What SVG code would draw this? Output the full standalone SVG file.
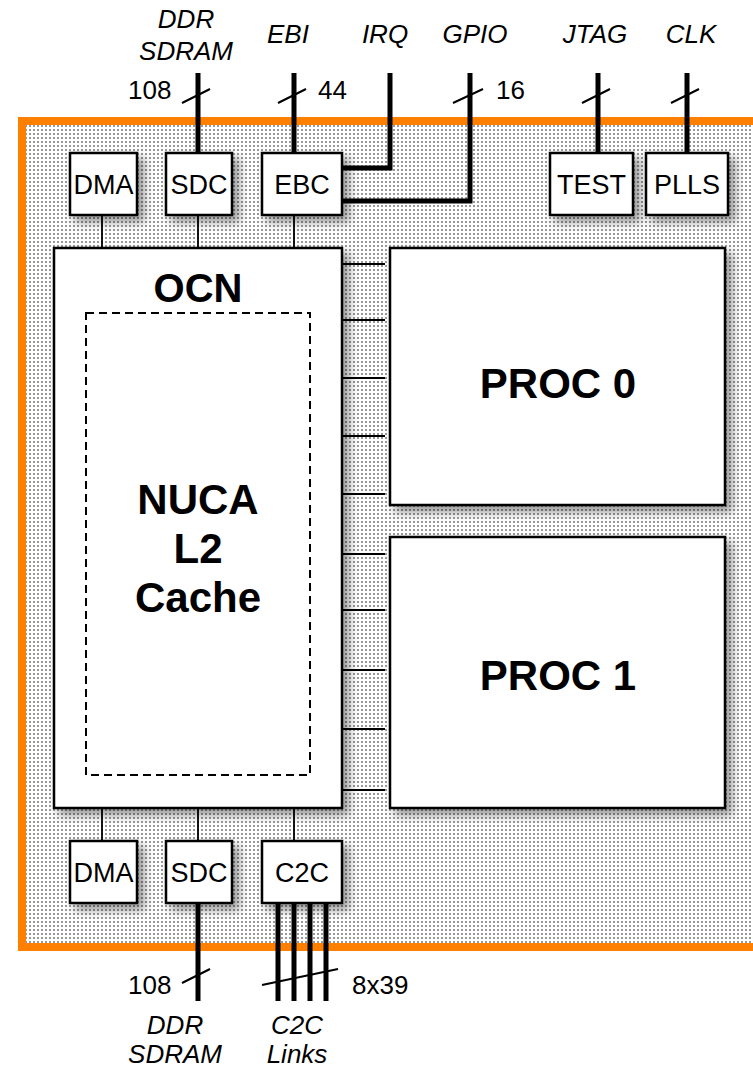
<svg xmlns="http://www.w3.org/2000/svg" width="753" height="1069" viewBox="0 0 753 1069">
<defs>
<pattern id="dots" width="4" height="4" patternUnits="userSpaceOnUse">
<rect width="4" height="4" fill="#ffffff"/>
<rect x="1" y="1" width="2" height="2" fill="#999999"/>
</pattern>
<filter id="sh" x="-20%" y="-20%" width="150%" height="150%">
<feDropShadow dx="6" dy="6" stdDeviation="5" flood-color="#000" flood-opacity="0.4"/>
</filter>
<style>
.box{fill:#fff;stroke:#000;stroke-width:2.5;filter:url(#sh)}
.lbl{font-family:"Liberation Sans",Arial,sans-serif;font-size:27px;fill:#000;text-anchor:middle}
.it{font-family:"Liberation Sans",Arial,sans-serif;font-size:26px;font-style:italic;fill:#000;text-anchor:middle}
.num{font-family:"Liberation Sans",Arial,sans-serif;font-size:26px;fill:#000}
.big{font-family:"Liberation Sans",Arial,sans-serif;font-size:42px;font-weight:bold;fill:#000;text-anchor:middle}
.bus{stroke:#000;stroke-width:5;fill:none}
.thin{stroke:#000;stroke-width:1.8;fill:none}
.slash{stroke:#000;stroke-width:2;fill:none}
</style>
</defs>
<rect width="753" height="1069" fill="#fff"/>
<g id="chip">
<rect x="22" y="121" width="760" height="826" fill="url(#dots)" stroke="#FF8000" stroke-width="8"/>
</g>
<g id="connectors">
<path class="bus" d="M198 73V153M294 73V153M390 73V168H342M470 73V201H342M598 73V153M687 73V153"/>
<path class="slash" d="M182 103L210 89M278 103L306 89M453 103L483 89M582 103L610 89M671 103L699 89"/>
<path class="thin" d="M102 215V248M198 215V248M294 215V248M102 808V841M198 808V841M294 808V841"/>
<path class="thin" d="M343 264H385M343 320H385M343 378H385M343 436H385M343 494H385M343 554H385M343 610H385M343 670H385M343 729H385M343 790H385"/>
<path class="bus" d="M198 903V1001M278 903V1001M294 903V1001M310 903V1001M326 903V1001"/>
<path class="slash" d="M182 983L210 969M262 985L338 969"/>
</g>
<g id="labels-top">
<text class="it" x="186" y="28">DDR</text>
<text class="it" x="186" y="60">SDRAM</text>
<text class="it" x="288" y="43">EBI</text>
<text class="it" x="385" y="43">IRQ</text>
<text class="it" x="475" y="43">GPIO</text>
<text class="it" x="595" y="43">JTAG</text>
<text class="it" x="691" y="43">CLK</text>
<text class="num" x="128" y="99">108</text>
<text class="num" x="318" y="99">44</text>
<text class="num" x="496" y="99">16</text>
</g>
<g id="dma-top"><rect class="box" x="70" y="153" width="67" height="62"/><text class="lbl" x="103.5" y="194">DMA</text></g>
<g id="sdc-top"><rect class="box" x="166" y="153" width="66" height="62"/><text class="lbl" x="199" y="194">SDC</text></g>
<g id="ebc"><rect class="box" x="262" y="153" width="80" height="62"/><text class="lbl" x="302" y="194">EBC</text></g>
<g id="test"><rect class="box" x="550" y="153" width="83" height="62"/><text class="lbl" x="591.5" y="194">TEST</text></g>
<g id="plls"><rect class="box" x="646" y="153" width="82" height="62"/><text class="lbl" x="687" y="194">PLLS</text></g>
<g id="ocn">
<rect class="box" x="54" y="248" width="288" height="560"/>
<text class="big" x="198" y="302" style="font-size:40px">OCN</text>
<rect x="86" y="313" width="224" height="462" fill="none" stroke="#000" stroke-width="2" stroke-dasharray="8,5"/>
<text class="big" x="198" y="514">NUCA</text>
<text class="big" x="198" y="563">L2</text>
<text class="big" x="198" y="612">Cache</text>
</g>
<g id="proc0"><rect class="box" x="390" y="248" width="335" height="257"/><text class="big" x="558" y="398">PROC 0</text></g>
<g id="proc1"><rect class="box" x="390" y="537" width="335" height="271"/><text class="big" x="558" y="690">PROC 1</text></g>
<g id="dma-bot"><rect class="box" x="70" y="841" width="67" height="62"/><text class="lbl" x="103.5" y="882">DMA</text></g>
<g id="sdc-bot"><rect class="box" x="166" y="841" width="66" height="62"/><text class="lbl" x="199" y="882">SDC</text></g>
<g id="c2c"><rect class="box" x="262" y="841" width="80" height="62"/><text class="lbl" x="302" y="882">C2C</text></g>
<g id="labels-bottom">
<text class="num" x="128" y="994">108</text>
<text class="num" x="352" y="994">8x39</text>
<text class="it" x="175" y="1034">DDR</text>
<text class="it" x="175" y="1063">SDRAM</text>
<text class="it" x="297" y="1034">C2C</text>
<text class="it" x="297" y="1063">Links</text>
</g>
</svg>
